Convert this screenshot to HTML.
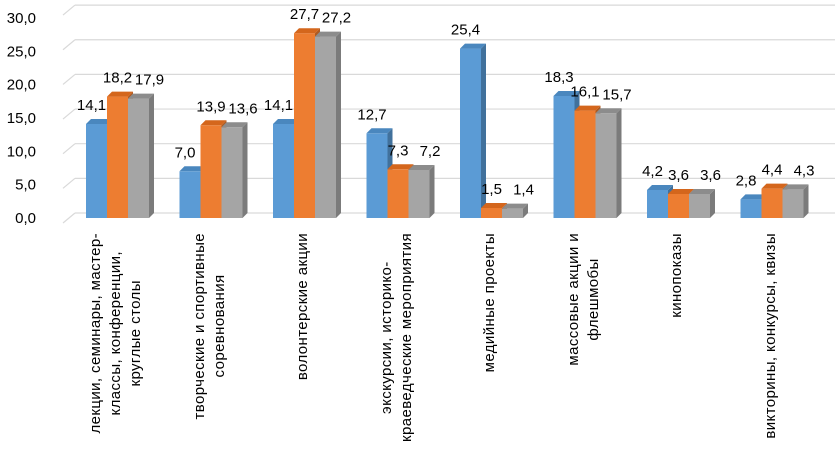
<!DOCTYPE html>
<html><head><meta charset="utf-8">
<style>
html,body{margin:0;padding:0;background:#fff;}
#wrap{position:relative;width:835px;height:452px;overflow:hidden;font-family:"Liberation Sans",Arial,sans-serif;}
.cat{position:absolute;top:233px;writing-mode:vertical-rl;transform:rotate(180deg);text-align:center;font-size:15px;letter-spacing:0.4px;line-height:20px;color:#000;white-space:nowrap;}
</style></head>
<body>
<div id="wrap">
<svg id="svg" width="835" height="452" style="position:absolute;left:0;top:0"></svg>
</div>
<script>
const categories = ["лекции,  семинары,  мастер-<br>классы, конференции,<br>круглые столы","творческие  и спортивные<br>соревнования","волонтерские  акции","экскурсии,  историко-<br>краеведческие мероприятия","медийные  проекты","массовые акции и<br>флешмобы","кинопоказы","викторины,  конкурсы,  квизы"];
const seriesA = [14.1,7.0,14.1,12.7,25.4,18.3,4.2,2.8];
const seriesB = [18.2,13.9,27.7,7.3,1.5,16.1,3.6,4.4];
const seriesC = [17.9,13.6,27.2,7.2,1.4,15.7,3.6,4.3];
const yTicks = [0,5,10,15,20,25,30];

const NS="http://www.w3.org/2000/svg";
const svg=document.getElementById('svg');
const wrap=document.getElementById('wrap');
const y0=218, k=6.67, dx=5, dy=5, bw=21, x0=86, pitch=93.5;
const labelShift=[-5,0,11];
function yF(v){return y0-v*k;}
function yB(v){return 213-v*6.93;}
function el(t,a){const e=document.createElementNS(NS,t);for(const n in a)e.setAttribute(n,a[n]);svg.appendChild(e);return e;}
const fmt=v=>v.toFixed(1).replace('.',',');

yTicks.forEach(v=>{
  const g=el('line',{x1:75,x2:835,y1:yB(v),y2:yB(v),stroke:'#d9d9d9','stroke-width':1.2});
  
  
  const d=el('line',{x1:63,x2:75,y1:yB(v)+10,y2:yB(v),stroke:'#d9d9d9','stroke-width':1.2});
  
  
  const t=el('text',{x:36,y:yF(v)+5,'text-anchor':'end','font-size':15,fill:'#000'});
  t.textContent=fmt(v);
  
  
});

const series=[[seriesA,'#5b9bd5','#4a87be','#41719c'],[seriesB,'#ed7d31','#d4661c','#ae5a21'],[seriesC,'#a5a5a5','#8c8c8c','#7b7b7b']];
categories.forEach((c,i)=>{
  series.forEach((s,j)=>{
    const v=s[0][i], x=x0+i*pitch+j*bw, t=yF(v);
    const side=el('polygon',{points:`${x+bw},${t} ${x+bw+dx},${t-dy} ${x+bw+dx},${y0-dy} ${x+bw},${y0}`,fill:s[3]});
    
    
    const r=el('rect',{x:x,y:t,width:bw,height:y0-t,fill:s[1]});
    
    
    const top=el('polygon',{points:`${x},${t} ${x+dx},${t-dy} ${x+bw+dx},${t-dy} ${x+bw},${t}`,fill:s[2]});
    
    
  });
});
categories.forEach((c,i)=>{
  series.forEach((s,j)=>{
    const v=s[0][i], x=x0+i*pitch+j*bw, t=yF(v);
    const lb=el('text',{x:x+bw/2+labelShift[j],y:t-14,'text-anchor':'middle','font-size':15,fill:'#000'});
    lb.textContent=fmt(v);
    
    
  });
  const d=document.createElement('div');
  d.className='cat';
  d.innerHTML=c;
  
  
  wrap.appendChild(d);
  const cx=x0+i*pitch+(3*bw+dx)/2-4;
  d.style.left=(cx-d.offsetWidth/2)+'px';
});
</script>
</body></html>
